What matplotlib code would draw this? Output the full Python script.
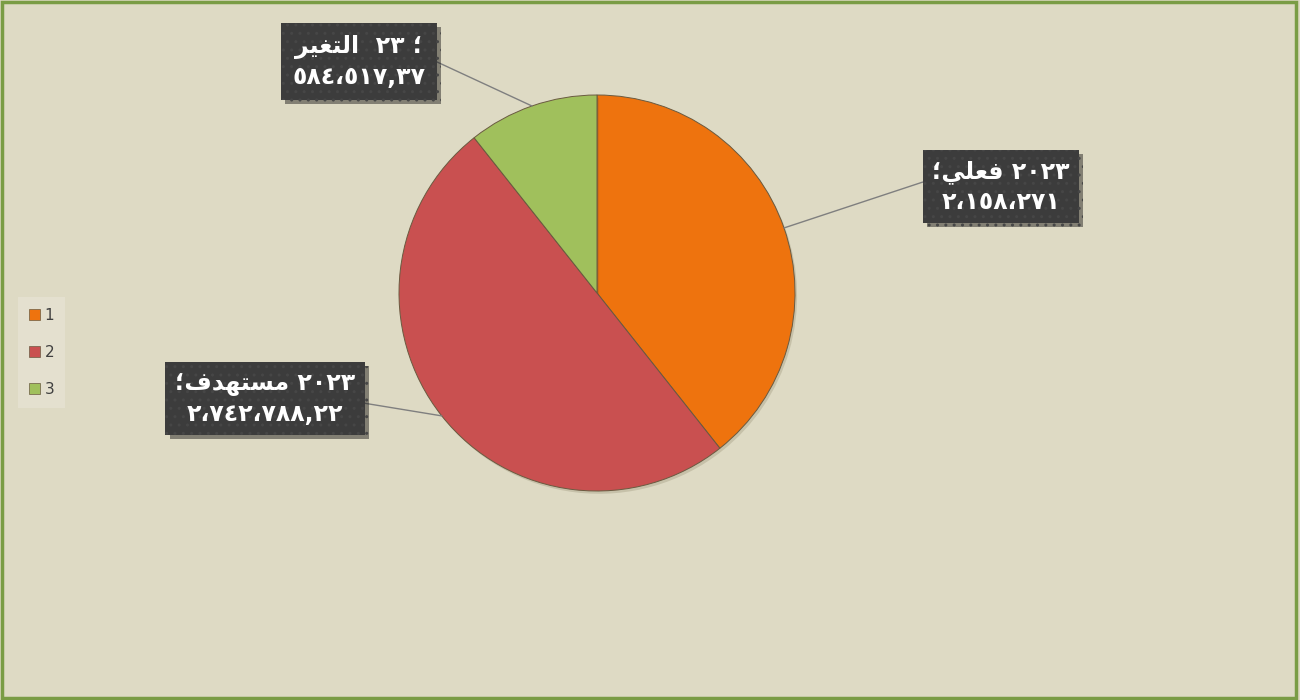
import numpy as np
import matplotlib
matplotlib.use("Agg")
import matplotlib.pyplot as plt
from matplotlib.patches import Rectangle
import matplotlib.patheffects as pe

# ---- data ----
categories = ["1", "2", "3"]
values = [2158271, 2742788.22, 584517.37]
names = ["فعلي", "مستهدف", "التغير"]
years = ["٢٠٢٣", "٢٠٢٣", "٢٣"]
value_texts = ["٢،١٥٨،٢٧١", "٢،٧٤٢،٧٨٨,٢٢", "٥٨٤،٥١٧,٣٧"]
colors = ["#EE730E", "#C95050", "#A0C05C"]

# ---- minimal Arabic shaping (presentation forms) ----
FORMS = {  # isolated, final, initial, medial
    "ا": ("\uFE8D", "\uFE8E", None, None),
    "د": ("\uFEA9", "\uFEAA", None, None),
    "ر": ("\uFEAD", "\uFEAE", None, None),
    "ل": ("\uFEDD", "\uFEDE", "\uFEDF", "\uFEE0"),
    "ت": ("\uFE95", "\uFE96", "\uFE97", "\uFE98"),
    "غ": ("\uFECD", "\uFECE", "\uFECF", "\uFED0"),
    "ي": ("\uFEF1", "\uFEF2", "\uFEF3", "\uFEF4"),
    "ف": ("\uFED1", "\uFED2", "\uFED3", "\uFED4"),
    "ع": ("\uFEC9", "\uFECA", "\uFECB", "\uFECC"),
    "م": ("\uFEE1", "\uFEE2", "\uFEE3", "\uFEE4"),
    "س": ("\uFEB1", "\uFEB2", "\uFEB3", "\uFEB4"),
    "ه": ("\uFEE9", "\uFEEA", "\uFEEB", "\uFEEC"),
}


def shape(word):
    out = []
    for i, ch in enumerate(word):
        f = FORMS.get(ch)
        if f is None:
            out.append(ch)
            continue
        prev = word[i - 1] if i > 0 else None
        nxt = word[i + 1] if i + 1 < len(word) else None
        jp = prev in FORMS and FORMS[prev][2] is not None
        jn = f[2] is not None and nxt in FORMS
        if jp and jn:
            g = f[3]
        elif jp:
            g = f[1]
        elif jn:
            g = f[2]
        else:
            g = f[0]
        out.append(g)
    return "".join(reversed(out))


line1 = [
    "؛" + shape(names[0]) + " " + years[0],
    "؛" + shape(names[1]) + " " + years[1],
    shape(names[2]) + "  " + years[2] + " ؛",
]

# ---- figure ----
BG = "#DEDAC4"
fig = plt.figure(figsize=(13, 7), dpi=100, facecolor=BG)
R = 198.0
cx, cy = 597.0, 293.0
ax = fig.add_axes([0, 0, 1, 1])
ax.set_facecolor(BG)

wedges, _ = ax.pie(values, colors=colors, startangle=90, counterclock=False,
                   radius=1.0, center=(0, 0), frame=True,
                   wedgeprops=dict(edgecolor="#6a5a40", linewidth=0.7))
ax.set_xlim((0 - cx) / R, (1300 - cx) / R)
ax.set_ylim((cy - 700) / R, cy / R)
ax.axis("off")
for w in wedges:
    w.set_path_effects([pe.SimplePatchShadow(offset=(1.5, -2), alpha=0.18, shadow_rgbFace="#5a5030"),
                        pe.Normal()])

# label box positions (pixel centres) and connector anchor on box
box_px = [(1001, 187), (265, 399), (359, 62)]
relpos = [(0.0, 0.65), (1.0, 0.45), (1.0, 0.6)]
pads = [0.4, 0.4, 0.48]
for i, w in enumerate(wedges):
    mid = np.deg2rad((w.theta1 + w.theta2) / 2)
    xy = (np.cos(mid), np.sin(mid))
    bx, by = box_px[i]
    txt = line1[i] + "\n" + value_texts[i]
    t = ax.annotate(txt, xy=xy, xytext=((bx - cx) / R, (cy - by) / R),
                    ha="center", va="center", color="white", fontsize=17,
                    fontweight="bold", family="DejaVu Sans", linespacing=1.3,
                    annotation_clip=False,
                    bbox=dict(boxstyle="square,pad=%.2f" % pads[i], facecolor="#3C3C3C",
                              edgecolor="#464646", hatch="..", linewidth=0),
                    arrowprops=dict(arrowstyle="-", color="#7F7F7F", lw=1.0,
                                    relpos=relpos[i], shrinkA=0, shrinkB=0))
    t.get_bbox_patch().set_path_effects([
        pe.SimplePatchShadow(offset=(3, -3), alpha=0.45), pe.Normal()])

# legend
leg = fig.legend(wedges, categories, loc="upper left",
                 bbox_to_anchor=(18 / 1300, 1 - 297 / 700),
                 frameon=True, fontsize=11, handlelength=0.75, handleheight=0.75,
                 labelspacing=1.45, handletextpad=0.3, borderpad=0.7,
                 borderaxespad=0, fancybox=False)
leg.get_frame().set_facecolor("#E6E2D3")
leg.get_frame().set_edgecolor("none")
for txt in leg.get_texts():
    txt.set_color("#404040")
for h in leg.legend_handles:
    h.set_path_effects([])
    h.set_edgecolor("#6a5a40")
    h.set_linewidth(0.5)

# outer border
fig.patches.append(Rectangle((0.0015, 0.0025), 0.9955, 0.995, transform=fig.transFigure,
                             fill=False, edgecolor="#7A9C45", linewidth=2.5))

fig.savefig("out.png", dpi=100, facecolor=BG)
